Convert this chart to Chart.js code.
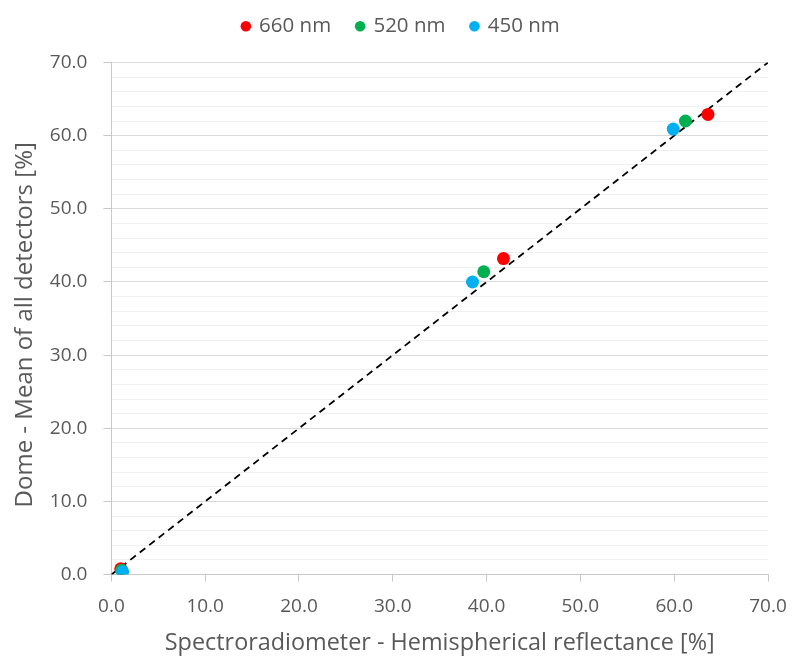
<!DOCTYPE html>
<html>
<head>
<meta charset="utf-8">
<script src="https://cdn.jsdelivr.net/npm/chart.js@4/dist/chart.umd.min.js"></script>
<style>
html,body{margin:0;padding:0;background:#fff;}
#wrap{width:792px;height:657px;position:relative;}
</style>
</head>
<body>
<div id="wrap"><canvas id="c" width="792" height="657"></canvas></div>
<script>
const seriesNames = ['660 nm', '520 nm', '450 nm'];
const seriesColors = ['#ff0000', '#00b050', '#00b0f0'];
const x660 = [1.0, 41.8, 63.6];
const y660 = [0.8, 43.2, 62.9];
const x520 = [1.1, 39.7, 61.2];
const y520 = [0.6, 41.4, 62.0];
const x450 = [1.2, 38.5, 59.9];
const y450 = [0.4, 40.0, 60.9];
const oneToOneX = [0, 70];
const oneToOneY = [0, 70];
const xTitle = 'Spectroradiometer - Hemispherical reflectance [%]';
const yTitle = 'Dome - Mean of all detectors [%]  ';

const zip = (xs, ys) => xs.map((x, i) => ({x: x, y: ys[i]}));
const allX = [x660, x520, x450];
const allY = [y660, y520, y450];

const datasets = seriesNames.map((name, i) => ({
  label: name,
  data: zip(allX[i], allY[i]),
  backgroundColor: seriesColors[i],
  borderColor: seriesColors[i],
  pointRadius: 6.5,
  pointHoverRadius: 6.5,
  borderWidth: 0,
  order: 3 - i
}));
datasets.push({
  label: '1:1',
  type: 'line',
  data: zip(oneToOneX, oneToOneY),
  borderColor: '#000',
  borderWidth: 1.8,
  borderDash: [7, 5],
  pointRadius: 0,
  fill: false,
  order: 10
});

const font = "'Open Sans', 'Liberation Sans', sans-serif";
const grey = '#595959';

const legendSpace = {
  id: 'legendSpace',
  beforeInit(chart) {
    const origFit = chart.legend.fit;
    chart.legend.fit = function () {
      origFit.bind(this)();
      this.height += 16;
    };
  }
};

new Chart(document.getElementById('c'), {
  type: 'scatter',
  data: { datasets: datasets },
  plugins: [legendSpace],
  options: {
    responsive: false,
    animation: false,
    devicePixelRatio: 1,
    layout: { padding: { left: 10.6, right: 0, top: -10, bottom: 0 } },
    plugins: {
      tooltip: { enabled: false },
      legend: {
        position: 'top',
        labels: {
          usePointStyle: true,
          pointStyle: 'circle',
          boxWidth: 6,
          boxHeight: 7.5,
          padding: 26,
          color: grey,
          font: { family: font, size: 20.5 },
          filter: (item) => item.datasetIndex < 3,
          sort: (a, b) => a.datasetIndex - b.datasetIndex
        }
      }
    },
    scales: {
      x: {
        type: 'linear',
        min: 0, max: 70,
        afterFit: (scale) => { scale.paddingRight = 24; },
        ticks: {
          stepSize: 10,
          color: grey,
          font: { family: font, size: 19 },
          padding: 14,
          callback: (v) => Number(v).toFixed(1)
        },
        grid: {
          drawOnChartArea: false,
          drawTicks: true,
          tickLength: 7,
          tickColor: '#c8c8c8'
        },
        border: { color: '#c8c8c8', width: 1 },
        title: {
          display: true,
          text: xTitle,
          color: grey,
          font: { family: font, size: 23.4 },
          padding: { top: -3.5, bottom: 0 }
        }
      },
      y: {
        type: 'linear',
        min: 0, max: 70,
        ticks: {
          stepSize: 2,
          autoSkip: false,
          color: grey,
          font: { family: font, size: 19 },
          padding: 16,
          callback: (v) => (Math.round(v) % 10 === 0 ? Number(v).toFixed(1) : '')
        },
        grid: {
          color: (ctx) => (ctx.tick && Math.round(ctx.tick.value) % 10 === 0 ? '#d9d9d9' : '#f0f0f0'),
          tickColor: (ctx) => (ctx.tick && Math.round(ctx.tick.value) % 10 === 0 ? '#c8c8c8' : 'rgba(0,0,0,0)'),
          drawTicks: true,
          tickLength: 8,
          lineWidth: 1
        },
        border: { color: '#c8c8c8', width: 1 },
        title: {
          display: true,
          text: yTitle,
          color: grey,
          font: { family: font, size: 24 },
          padding: { top: 0, bottom: -5.6 }
        }
      }
    }
  }
});
</script>
</body>
</html>
